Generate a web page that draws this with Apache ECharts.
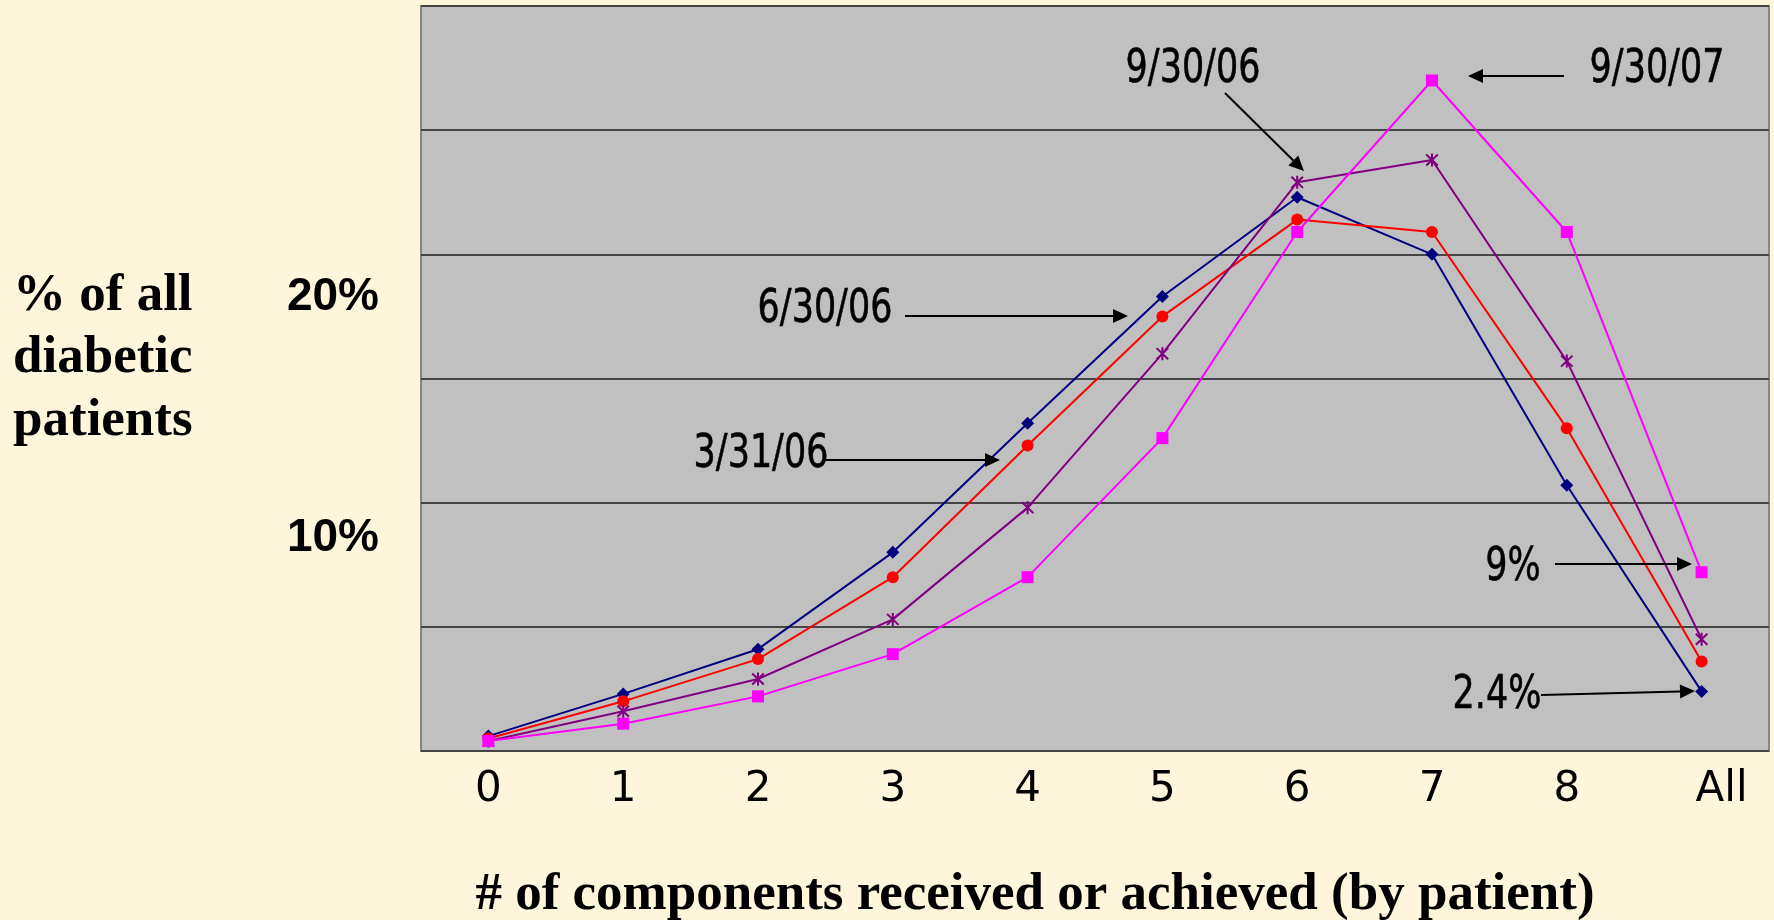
<!DOCTYPE html>
<html>
<head>
<meta charset="utf-8">
<script src="https://cdn.jsdelivr.net/npm/echarts@6/dist/echarts.min.js"></script>
<style>
html,body{margin:0;padding:0;background:#FEF6DB;}
#chart{width:1774px;height:920px;}
</style>
</head>
<body>
<div id="chart"></div>
<script>
// ---- data ----
const categories = ['0', '1', '2', '3', '4', '5', '6', '7', '8', 'All'];
const seriesNames = ['3/31/06', '6/30/06', '9/30/06', '9/30/07'];
const s_3_31_06 = [0.6, 2.3, 4.1, 8.0, 13.2, 18.3, 22.3, 20.0, 10.7, 2.4];
const s_6_30_06 = [0.5, 2.0, 3.7, 7.0, 12.3, 17.5, 21.4, 20.9, 13.0, 3.6];
const s_9_30_06 = [0.4, 1.6, 2.9, 5.3, 9.8, 16.0, 22.9, 23.8, 15.7, 4.5];
const s_9_30_07 = [0.4, 1.1, 2.2, 3.9, 7.0, 12.6, 20.9, 27.0, 20.9, 7.2];
const yTickValues = [10, 20];
const yTickLabels = ['10%', '20%'];
const yTitle = '% of all\ndiabetic\npatients';
const xTitle = '# of components received or achieved (by patient)';
const notes = ['9/30/06', '9/30/07', '6/30/06', '3/31/06', '9%', '2.4%'];

const NARROW = '"DejaVu Sans", sans-serif';
const SERIF = '"Liberation Serif", "DejaVu Serif", serif';
const starPath = 'path://M8.5,0 L11.5,0 L11.5,20 L8.5,20 Z ' +
  'M0.44,2.56 L2.56,0.44 L19.56,17.44 L17.44,19.56 Z ' +
  'M17.44,0.44 L19.56,2.56 L2.56,19.56 L0.44,17.44 Z';

function arrow(x1, y1, x2, y2) {
  const dx = x2 - x1, dy = y2 - y1, len = Math.sqrt(dx * dx + dy * dy);
  const ux = dx / len, uy = dy / len, nx = -uy, ny = ux;
  const L = 15, W = 7;
  const bx = x2 - ux * L, by = y2 - uy * L;
  return [
    { type: 'line', z: 100, shape: { x1: x1, y1: y1, x2: bx, y2: by }, style: { stroke: '#000', lineWidth: 2 } },
    { type: 'polygon', z: 100, shape: { points: [[x2, y2], [bx + nx * W, by + ny * W], [bx - nx * W, by - ny * W]] }, style: { fill: '#000' } }
  ];
}
function note(text, x, y) {
  return {
    type: 'group', x: x, y: y, scaleX: 0.76, z: 100,
    children: [{
      type: 'text', z: 100,
      style: {
        text: text, x: 0, y: 0, fill: '#000', stroke: '#000', lineWidth: 0.6,
        font: '46px ' + NARROW,
        textAlign: 'center', textVerticalAlign: 'middle', align: 'center', verticalAlign: 'middle'
      }
    }]
  };
}

const graphics = [].concat(
  [note(notes[0], 1193, 70), note(notes[1], 1657, 70), note(notes[2], 825, 310),
   note(notes[3], 761, 455), note(notes[4], 1513, 568), note(notes[5], 1497, 696)],
  arrow(1564, 76, 1468, 76),
  arrow(1225, 93, 1304, 171),
  arrow(905, 316, 1128, 316),
  arrow(826, 460, 1000, 460),
  arrow(1555, 564, 1692, 564),
  arrow(1541, 695, 1695, 691),
  [
    { type: 'text', z: 100, style: { text: yTitle, x: 13, y: 265, fill: '#000', font: 'bold 53px ' + SERIF, lineHeight: 62.5, textAlign: 'left', align: 'left', textVerticalAlign: 'top', verticalAlign: 'top' } },
    { type: 'text', z: 100, style: { text: xTitle, x: 1035, y: 895, fill: '#000', font: 'bold 53px ' + SERIF, textAlign: 'center', align: 'center', textVerticalAlign: 'middle', verticalAlign: 'middle' } }
  ]
);

function lineSeries(name, data, color, symbol, size) {
  return {
    name: name, type: 'line', data: data, symbol: symbol, symbolSize: size,
    showAllSymbol: true,
    lineStyle: { color: color, width: 2 },
    itemStyle: { color: color },
    emphasis: { disabled: true },
    animation: false
  };
}

const xLabelBase = { color: '#000', fontFamily: NARROW, fontSize: 42, lineHeight: 43 };

const chart = echarts.init(document.getElementById('chart'), null, { renderer: 'canvas' });
chart.setOption({
  backgroundColor: '#FEF6DB',
  animation: false,
  grid: {
    left: 421, right: 5, top: 6, bottom: 169,
    show: true, backgroundColor: '#C0C0C0', borderColor: '#858585', borderWidth: 2,
    containLabel: false, outerBoundsMode: 'none'
  },
  xAxis: {
    type: 'category', data: categories, boundaryGap: true,
    axisLine: { show: false }, axisTick: { show: false }, splitLine: { show: false },
    axisLabel: {
      margin: 18,
      formatter: function (v) { return v === 'All' ? '{all|' + v + '}' : '{n|' + v + '}'; },
      rich: {
        n: Object.assign({}, xLabelBase),
        all: Object.assign({ padding: [0, 0, 0, 40] }, xLabelBase)
      }
    }
  },
  yAxis: {
    type: 'value', min: 0, max: 30, interval: 5,
    axisLine: { show: false }, axisTick: { show: false },
    splitLine: { show: true, lineStyle: { color: '#454545', width: 2 } },
    axisLabel: {
      margin: 42, verticalAlign: 'top',
      formatter: function (v) {
        const i = yTickValues.indexOf(v);
        if (i < 0) return '';
        return '{t' + i + '|' + yTickLabels[i] + '}';
      },
      rich: {
        t0: { color: '#000', fontFamily: '"Liberation Sans", Arial, sans-serif', fontWeight: 'bold', fontSize: 46, lineHeight: 72 },
        t1: { color: '#000', fontFamily: '"Liberation Sans", Arial, sans-serif', fontWeight: 'bold', fontSize: 46, lineHeight: 86 }
      }
    }
  },
  series: [
    lineSeries(seriesNames[0], s_3_31_06, '#000080', 'diamond', 13),
    lineSeries(seriesNames[1], s_6_30_06, '#FF0000', 'circle', 12),
    lineSeries(seriesNames[2], s_9_30_06, '#800080', starPath, 13),
    lineSeries(seriesNames[3], s_9_30_07, '#FF00FF', 'rect', 12)
  ],
  graphic: graphics
});
</script>
</body>
</html>
